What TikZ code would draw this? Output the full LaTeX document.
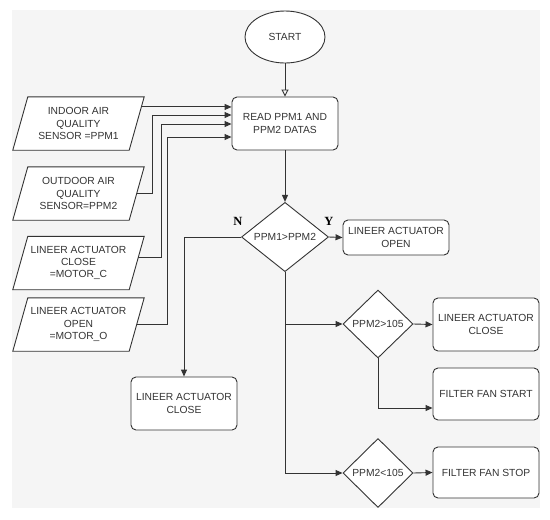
\documentclass[tikz,border=0pt]{standalone}
\usepackage{fontspec}
\setmainfont{Liberation Sans}
\newfontfamily\lblfont{Liberation Serif}
\usetikzlibrary{shapes.geometric,arrows.meta,calc}
\definecolor{bggray}{HTML}{F5F5F5}
\definecolor{linec}{HTML}{333333}
\definecolor{txtc}{HTML}{333333}
\pgfdeclarelayer{bg}
\pgfsetlayers{bg,main}
\newcommand{\inpara}[4]{%
  \node[inbox] (#1) at (#2,#3) {#4};
  \begin{pgfonlayer}{bg}
    \draw[ln,fill=white] ([xshift=7.5pt]#1.north west) -- ([xshift=7.5pt]#1.north east)
      -- ([xshift=-7.5pt]#1.south east) -- ([xshift=-7.5pt]#1.south west) -- cycle;
  \end{pgfonlayer}}
\begin{document}
\begin{tikzpicture}[x=1pt,y=-1pt,
  font=\fontsize{10.3}{12.4}\selectfont,
  ln/.style={draw=linec,line width=0.9pt},
  arr/.style={ln,-{Triangle[length=7pt,width=6pt]}},
  box/.style={ln,fill=white,rounded corners=5pt,minimum width=106pt,minimum height=53pt,align=center,inner sep=2pt,text=txtc},
  dec/.style={ln,fill=white,diamond,inner sep=0pt,align=center,text=txtc},
  inbox/.style={minimum width=116pt,minimum height=53pt,align=center,inner sep=0pt,text=txtc},
  lbl/.style={font=\lblfont\bfseries\fontsize{12.5}{14}\selectfont,text=black}]
\begin{pgfonlayer}{bg}
\fill[white] (0,0) rectangle (550,520);
\fill[bggray] (12,10) rectangle (540,508);
\end{pgfonlayer}
\useasboundingbox (0,0) rectangle (550,520);

\node[ln,fill=white,ellipse,minimum width=80pt,minimum height=52pt,inner sep=0pt,text=txtc] (start) at (285,37) {START};
\node[box] (read) at (285,123.5) {READ PPM1 AND\\PPM2 DATAS};

\inpara{in1}{78.5}{123.5}{INDOOR AIR\\QUALITY\\SENSOR =PPM1}
\inpara{in2}{78.5}{193.5}{OUTDOOR AIR\\QUALITY\\SENSOR=PPM2}
\inpara{in3}{78.5}{263}{LINEER ACTUATOR\\CLOSE\\=MOTOR\_C}
\inpara{in4}{78.5}{324.5}{LINEER ACTUATOR\\OPEN\\=MOTOR\_O}

\node[dec,minimum width=87pt,minimum height=69pt] (dec1) at (285,237) {PPM1>PPM2};
\node[box,minimum height=35pt] (open) at (396,237.5) {LINEER ACTUATOR\\OPEN};
\node[box] (closeN) at (184,403.5) {LINEER ACTUATOR\\CLOSE};
\node[dec,minimum width=70pt,minimum height=68pt] (dec2) at (378,324) {PPM2>105};
\node[box] (close2) at (486,324.5) {LINEER ACTUATOR\\CLOSE};
\node[box,minimum height=52pt] (fanstart) at (486,394) {FILTER FAN START};
\node[dec,minimum width=70pt,minimum height=69pt] (dec3) at (378,473) {PPM2<105};
\node[box,minimum height=51pt] (fanstop) at (486,472.5) {FILTER FAN STOP};

\node[lbl] (nlab) at (238,221) {N};
\node[lbl] (ylab) at (329,221) {Y};

% input connectors
\coordinate (r1) at ($(read.west)+(0,-16.5)$);
\coordinate (r2) at ($(read.west)+(0,-8.5)$);
\coordinate (r3) at ($(read.west)+(0,0.5)$);
\coordinate (r4) at ($(read.west)+(0,13.5)$);
\coordinate (e1) at ($(in1.north east)!0.19!(in1.south east)+(4.7,0)$);
\coordinate (e3) at ($(in3.north east)!0.40!(in3.south east)+(1.5,0)$);
\draw[arr] (e1) -- (e1 -| r1);
\draw[arr] (in2.east) -| ($(r2)+(-79,0)$) -- (r2);
\draw[arr] (e3) -| ($(r3)+(-70,0)$) -- (r3);
\draw[arr] (in4.east) -| ($(r4)+(-64,0)$) -- (r4);

% main flow
\draw[ln,-{Triangle[open,length=7pt,width=7pt]}] (start) -- (read);
\draw[arr] (read) -- (dec1);
\draw[arr] (dec1.east) -- (open.west);
\draw[arr] (dec1.west) -| (closeN.north);
\draw[arr] (dec1.south) |- (dec3.west);
\draw[arr] (dec1.south |- dec2.west) -- (dec2.west);
\draw[arr] (dec2.east) -- (close2.west);
\draw[arr] (dec2.south) |- ($(fanstart.west)+(0,14)$);
\draw[arr] (dec3.east) -- (fanstop.west);
\end{tikzpicture}
\end{document}
